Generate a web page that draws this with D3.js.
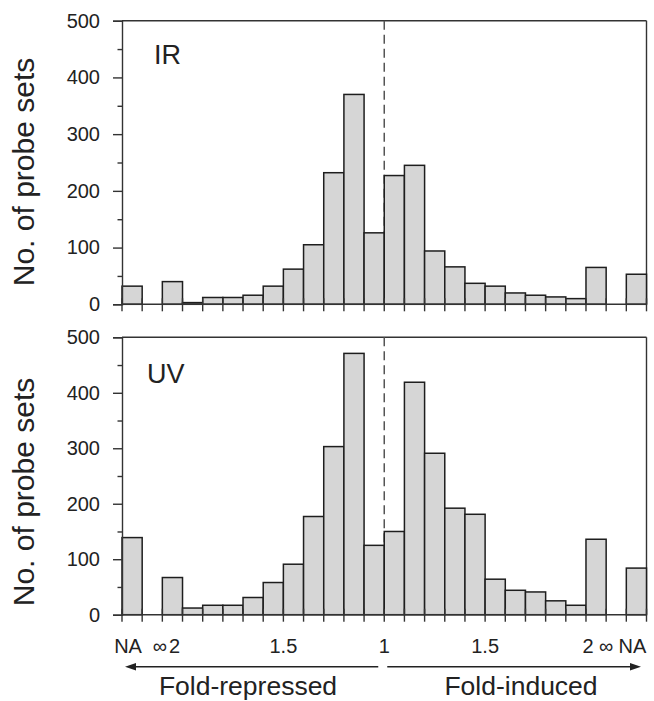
<!DOCTYPE html>
<html>
<head>
<meta charset="utf-8">
<script src="https://cdn.jsdelivr.net/npm/d3@7"></script>
<style>
  html, body { margin: 0; padding: 0; background: #fff; }
  svg { display: block; }
  text { font-family: "Liberation Sans", Arial, Helvetica, sans-serif; fill: #222; }
</style>
</head>
<body>
<svg id="chart" width="654" height="701"></svg>
<script>
// ---------- DATA ----------
// 26 bins: fold-repressed side (NA, gap, ∞, 2.0→1.0) then fold-induced side (1.0→2.0, ∞, gap, NA)
const categories = [
  "R:NA", "R:gap", "R:inf",
  "R:2.0-1.9", "R:1.9-1.8", "R:1.8-1.7", "R:1.7-1.6", "R:1.6-1.5",
  "R:1.5-1.4", "R:1.4-1.3", "R:1.3-1.2", "R:1.2-1.1", "R:1.1-1.0",
  "I:1.0-1.1", "I:1.1-1.2", "I:1.2-1.3", "I:1.3-1.4", "I:1.4-1.5",
  "I:1.5-1.6", "I:1.6-1.7", "I:1.7-1.8", "I:1.8-1.9", "I:1.9-2.0",
  "I:inf", "I:gap", "I:NA"
];
const irValues = [32, null, 40, 3, 12, 12, 16, 32, 62, 105, 232, 370, 126,
                  227, 245, 94, 66, 37, 32, 20, 16, 13, 10, 65, null, 53];
const uvValues = [139, null, 67, 12, 17, 17, 31, 58, 91, 177, 303, 471, 125,
                  150, 419, 291, 192, 181, 64, 44, 41, 25, 17, 136, null, 84];
const panelNames = ["IR", "UV"];
const yTicks = [0, 100, 200, 300, 400, 500];
const yMinorTicks = [50, 150, 250, 350, 450];
const xTickLabels = ["NA", "∞", "2", "1.5", "1", "1.5", "2", "∞", "NA"];
const xTickAt = [0.3, 1.88, 2.6, 8, 13, 18, 23.1, 24, 25.3]; // in bin units
const dividerAt = 13; // fold change = 1
const yLabel = "No. of probe sets";
const sideLabels = ["Fold-repressed", "Fold-induced"];

// ---------- LAYOUT ----------
const svg = d3.select("#chart");
const plotLeft = 122, plotRight = 646.5;
const panels = [
  { name: panelNames[0], values: irValues, top: 20.7, bottom: 304.3, labelY: 172, nameX: 154, nameY: 64 },
  { name: panelNames[1], values: uvValues, top: 337.3, bottom: 614.7, labelY: 492, nameX: 147, nameY: 383 }
];
const axisColor = "#333";
const x = d3.scaleBand().domain(categories).range([plotLeft, plotRight]).paddingInner(0).paddingOuter(0);
const bw = x.bandwidth();
const xu = d3.scaleLinear().domain([0, categories.length]).range([plotLeft, plotRight]);

panels.forEach((p, pi) => {
  const y = d3.scaleLinear().domain([0, 500]).range([p.bottom, p.top]);
  const g = svg.append("g");

  // frame top and right
  g.append("line").attr("x1", plotLeft).attr("x2", plotRight).attr("y1", p.top).attr("y2", p.top)
    .attr("stroke", axisColor).attr("stroke-width", 1.4);
  g.append("line").attr("x1", plotRight).attr("x2", plotRight).attr("y1", p.top).attr("y2", p.bottom)
    .attr("stroke", axisColor).attr("stroke-width", 1.4);

  // dashed divider at fold change 1
  g.append("line").attr("x1", xu(dividerAt)).attr("x2", xu(dividerAt))
    .attr("y1", p.top).attr("y2", p.bottom)
    .attr("stroke", "#555").attr("stroke-width", 1.5).attr("stroke-dasharray", "9,5");

  // bars
  g.selectAll("rect.bar")
    .data(categories.map((c, i) => ({ c, v: p.values[i] })).filter(d => d.v != null))
    .enter().append("rect").attr("class", "bar")
    .attr("x", d => x(d.c)).attr("width", bw)
    .attr("y", d => y(d.v)).attr("height", d => y(0) - y(d.v))
    .attr("fill", "#d6d6d6").attr("stroke", "#1e1e1e").attr("stroke-width", 1.5);

  // y axis major
  const ya = g.append("g").attr("transform", `translate(${plotLeft},0)`)
    .call(d3.axisLeft(y).tickValues(yTicks).tickSize(9).tickPadding(13).tickFormat(d3.format("d")));
  ya.selectAll("text").style("font-size", "20px").attr("fill", "#222");
  ya.selectAll("line, path").attr("stroke", axisColor).attr("stroke-width", 1.4);
  // y axis minor
  const ym = g.append("g").attr("transform", `translate(${plotLeft},0)`)
    .call(d3.axisLeft(y).tickValues(yMinorTicks).tickSize(4.5).tickFormat(""));
  ym.select("path").remove();
  ym.selectAll("line").attr("stroke", axisColor).attr("stroke-width", 1.4);

  // x axis baseline and crossing ticks
  g.append("line").attr("x1", plotLeft).attr("x2", plotRight).attr("y1", p.bottom).attr("y2", p.bottom)
    .attr("stroke", axisColor).attr("stroke-width", 1.4);
  g.selectAll("line.xt").data(d3.range(categories.length + 1)).enter().append("line").attr("class", "xt")
    .attr("x1", d => xu(d)).attr("x2", d => xu(d))
    .attr("y1", p.bottom - 6).attr("y2", p.bottom + 7)
    .attr("stroke", axisColor).attr("stroke-width", 1.4);

  // panel name
  g.append("text").attr("x", p.nameX).attr("y", p.nameY).text(p.name).style("font-size", "27px");

  // y label
  g.append("text").attr("transform", `translate(34,${p.labelY}) rotate(-90)`)
    .attr("text-anchor", "middle").style("font-size", "30px").text(yLabel);
});

// x tick labels (bottom panel only)
svg.selectAll("text.xl").data(xTickLabels).enter().append("text").attr("class", "xl")
  .attr("x", (d, i) => xu(xTickAt[i])).attr("y", 653)
  .attr("text-anchor", "middle").style("font-size", "20px").text(d => d);

// arrows
const arrowY = 666.7;
function arrow(x1, x2) {
  const dir = Math.sign(x2 - x1);
  svg.append("line").attr("x1", x1).attr("x2", x2 - dir * 8).attr("y1", arrowY).attr("y2", arrowY)
    .attr("stroke", "#222").attr("stroke-width", 1.5);
  svg.append("path")
    .attr("d", `M${x2},${arrowY} L${x2 - dir * 11},${arrowY - 3.8} L${x2 - dir * 11},${arrowY + 3.8} Z`)
    .attr("fill", "#222");
}
arrow(xu(dividerAt) - 6, 125);
arrow(xu(dividerAt) + 3, 641);

svg.append("text").attr("x", 248).attr("y", 694.5).attr("text-anchor", "middle")
  .style("font-size", "26.5px").text(sideLabels[0]);
svg.append("text").attr("x", 521).attr("y", 694.5).attr("text-anchor", "middle")
  .style("font-size", "26.5px").text(sideLabels[1]);
</script>
</body>
</html>
